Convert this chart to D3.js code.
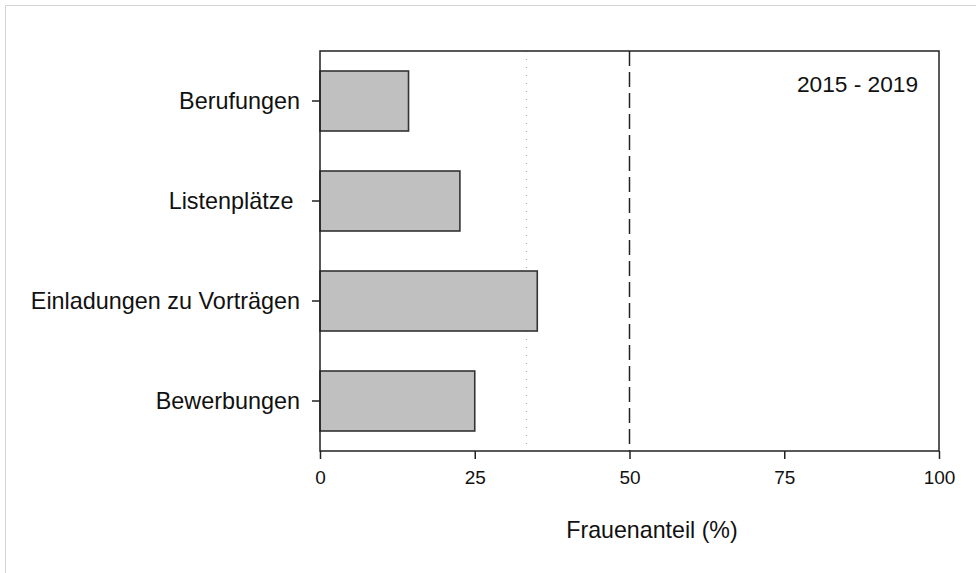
<!DOCTYPE html>
<html>
<head>
<meta charset="utf-8">
<script src="https://cdn.jsdelivr.net/npm/d3@7"></script>
<style>
  body { margin: 0; background: #fff; }
  svg text { font-family: "Liberation Sans", Arial, sans-serif; fill: #111; }
</style>
</head>
<body>
<div id="chart-area"></div>
<script>
// data
var categories = ["Berufungen", "Listenplätze ", "Einladungen zu Vorträgen", "Bewerbungen"];
var values = [14.3, 22.6, 35.1, 25.0];
var xTicks = [0, 25, 50, 75, 100];
var refThird = 100 / 3;
var refHalf = 50;
var periodLabel = "2015 - 2019";
var xTitle = "Frauenanteil (%)";

var W = 976, H = 573;
var margin = { left: 320, right: 37, top: 51, bottom: 122 };
var width = W - margin.left - margin.right;
var height = H - margin.top - margin.bottom;

var svg = d3.select("#chart-area").append("svg")
    .attr("width", W)
    .attr("height", H);

// faint page frame
svg.append("path")
    .attr("d", "M5.5," + H + "V5.5H" + W)
    .attr("fill", "none")
    .attr("stroke", "#d4d4d4")
    .attr("stroke-width", 1);

var g = svg.append("g")
    .attr("transform", "translate(" + margin.left + ", " + margin.top + ")");

var x = d3.scaleLinear()
    .domain([0, 100])
    .range([0, width]);

var y = d3.scaleBand()
    .domain(categories)
    .range([0, height])
    .paddingInner(0.4)
    .paddingOuter(0.2);

// reference lines
g.append("line")
    .attr("x1", x(refThird)).attr("x2", x(refThird))
    .attr("y1", 0).attr("y2", height)
    .attr("stroke", "#9a9a9a")
    .attr("stroke-width", 1)
    .attr("stroke-dasharray", "1,7");

g.append("line")
    .attr("x1", x(refHalf)).attr("x2", x(refHalf))
    .attr("y1", 0).attr("y2", height)
    .attr("stroke", "#222")
    .attr("stroke-width", 1.5)
    .attr("stroke-dasharray", "15,6");

// bars
g.selectAll("rect.bar")
    .data(categories)
    .enter()
    .append("rect")
        .attr("class", "bar")
        .attr("x", x(0))
        .attr("y", (d) => y(d))
        .attr("width", (d, i) => x(values[i]) - x(0))
        .attr("height", y.bandwidth())
        .attr("fill", "#c0c0c0")
        .attr("stroke", "#333")
        .attr("stroke-width", 1.6);

// frame
g.append("rect")
    .attr("x", 0).attr("y", 0)
    .attr("width", width).attr("height", height)
    .attr("fill", "none")
    .attr("stroke", "#222")
    .attr("stroke-width", 1.5);

// x Axis
var xAxisCall = d3.axisBottom(x)
    .tickValues(xTicks)
    .tickSize(8)
    .tickSizeOuter(0);
var xAxis = g.append("g")
    .attr("class", "x axis")
    .attr("transform", "translate(0, " + height + ")")
    .call(xAxisCall);
xAxis.select(".domain").remove();
xAxis.selectAll("line").attr("stroke", "#222").attr("stroke-width", 1.5);
xAxis.selectAll("text")
    .attr("y", 20)
    .style("font-size", "19px");

// y Axis
var yAxisCall = d3.axisLeft(y)
    .tickSize(8)
    .tickSizeOuter(0)
    .tickPadding(12);
var yAxis = g.append("g")
    .attr("class", "y axis")
    .call(yAxisCall);
yAxis.select(".domain").remove();
yAxis.selectAll("line").attr("stroke", "#222").attr("stroke-width", 1.5);
yAxis.selectAll("text")
    .style("font-size", "23.4px")
    .style("white-space", "pre");

// x Label
g.append("text")
    .attr("x", 332)
    .attr("y", height + 87)
    .attr("text-anchor", "middle")
    .style("font-size", "23.2px")
    .text(xTitle);

// period label
g.append("text")
    .attr("x", width - 21)
    .attr("y", 41)
    .attr("text-anchor", "end")
    .style("font-size", "22.7px")
    .text(periodLabel);
</script>
</body>
</html>
